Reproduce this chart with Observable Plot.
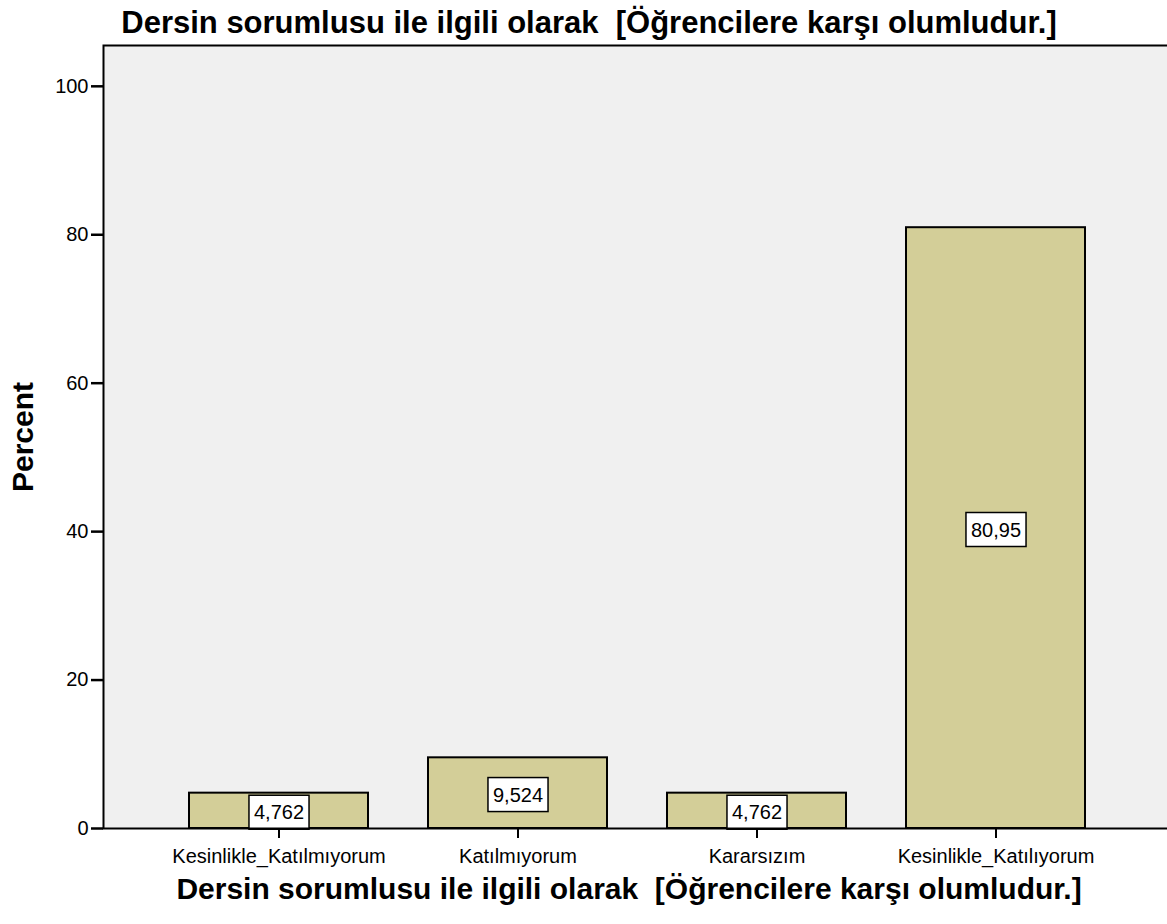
<!DOCTYPE html>
<html><head><meta charset="utf-8">
<script src="https://cdn.jsdelivr.net/npm/d3@7"></script>
<script src="https://cdn.jsdelivr.net/npm/@observablehq/plot@0.6"></script>
<style>
body{margin:0;background:#fff;}
#chart{width:1167px;height:924px;overflow:hidden;}
</style>
</head><body><div id="chart"></div>
<script>
const categories = ["Kesinlikle_Katılmıyorum", "Katılmıyorum", "Kararsızım", "Kesinlikle_Katılıyorum"];
const percents = [4.762, 9.524, 4.762, 80.95];
const yTicks = [0, 20, 40, 60, 80, 100];
const titleText = "Dersin sorumlusu ile ilgili olarak \u00a0[Öğrencilere karşı olumludur.]";
const xLabel = "Dersin sorumlusu ile ilgili olarak \u00a0[Öğrencilere karşı olumludur.]";
const yLabel = "Percent";

const data = categories.map((c, i) => ({category: c, percent: percents[i]}));
const fmt = v => String(v).replace(".", ",");

const plot = Plot.plot({
  width: 1167, height: 924,
  marginLeft: 103, marginRight: -3, marginTop: 45, marginBottom: 96,
  style: {fontFamily: "'Liberation Sans', Arial, sans-serif", fontSize: "20px", color: "#000", background: "#fff"},
  x: {domain: categories, paddingInner: 0.25, paddingOuter: 0.348, align: 0.503, label: null},
  y: {domain: [0, 105.5], ticks: yTicks, label: null},
  marks: [
    Plot.frame({fill: "#f0f0f0"}),
    Plot.barY(data, {x: "category", y: "percent", fill: "#d3ce98", stroke: "#000", strokeWidth: 2}),
    Plot.text(data, {x: "category", y: d => d.percent / 2, text: d => fmt(d.percent), lineAnchor: "middle", dy: 2, fontSize: 20, fill: "#000"}),
    Plot.frame({stroke: "#000", strokeWidth: 2}),
    Plot.axisY({ticks: yTicks, tickSize: 12, tickPadding: 3, strokeWidth: 2.5, label: null}),
    Plot.axisX({tickSize: 10, tickPadding: 10, strokeWidth: 2, label: null}),
    Plot.text([yLabel], {frameAnchor: "left", text: d => d, rotate: -90, dx: -80, textAnchor: "middle", lineAnchor: "middle", fontSize: 30, fontWeight: "bold", fill: "#000"}),
    Plot.text([xLabel], {frameAnchor: "bottom", text: d => d, dy: 61, dx: -8, textAnchor: "middle", lineAnchor: "middle", fontSize: 30, fontWeight: "bold", fill: "#000"}),
    Plot.text([titleText], {frameAnchor: "top", text: d => d, dy: -22, dx: -48, textAnchor: "middle", lineAnchor: "middle", fontSize: 31, fontWeight: "bold", fill: "#000"})
  ]
});
document.getElementById("chart").appendChild(plot);

// white boxes behind value labels
const labelGroup = plot.querySelectorAll('g[aria-label="text"]')[0];
if (labelGroup) {
  const ns = "http://www.w3.org/2000/svg";
  labelGroup.querySelectorAll("text").forEach(t => {
    const b = t.getBBox();
    const r = document.createElementNS(ns, "rect");
    r.setAttribute("x", b.x - 5);
    r.setAttribute("y", b.y - 6);
    r.setAttribute("width", b.width + 10);
    r.setAttribute("height", b.height + 12);
    if (t.getAttribute("transform")) r.setAttribute("transform", t.getAttribute("transform"));
    r.setAttribute("fill", "#fff");
    r.setAttribute("stroke", "#000");
    r.setAttribute("stroke-width", 1.5);
    t.parentNode.insertBefore(r, t);
  });
}
</script>
</body></html>
